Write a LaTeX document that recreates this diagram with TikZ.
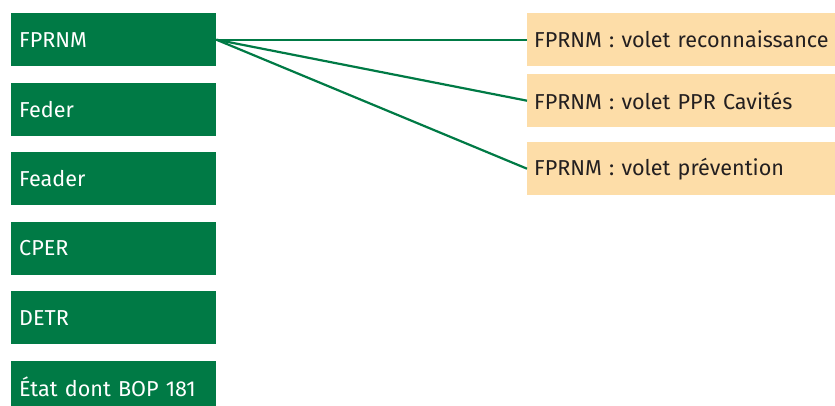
\documentclass[tikz,border=0pt]{standalone}
\usepackage{fontspec}
\setmainfont{Fira Sans}
\definecolor{fundgreen}{RGB}{0,122,69}
\definecolor{partsand}{RGB}{253,221,168}
\definecolor{parttext}{RGB}{35,31,32}
\begin{document}
\begin{tikzpicture}[x=1pt,y=-1pt,
  fund/.style={anchor=north west, fill=fundgreen, text=white, inner xsep=8pt, inner ysep=0pt,
    text width=189pt, minimum height=53pt, align=left, font=\fontsize{21.6}{24}\selectfont},
  part/.style={anchor=north west, fill=partsand, text=parttext, inner xsep=7pt, inner ysep=0pt,
    text width=300pt, minimum height=53pt, align=left, font=\fontsize{21.6}{24}\selectfont},
  link/.style={draw=fundgreen, line width=2.2pt}]
  \useasboundingbox (0,0) rectangle (835,406);
  \clip (0,0) rectangle (835,406);

  % funding sources
  \node[fund] (fprnm) at (11,13)    {FPRNM};
  \node[fund] (feder) at (11,82.5)  {Feder};
  \node[fund] (feader) at (11,152)  {Feader};
  \node[fund] (cper) at (11,221.5)  {CPER};
  \node[fund] (detr) at (11,291)    {DETR};
  \node[fund] (etat) at (11,360.5)  {État dont BOP 181};

  % FPRNM components
  \node[part] (reco) at (527,13)  {FPRNM : volet reconnaissance};
  \node[part] (ppr) at (527,74)   {FPRNM : volet PPR Cavités};
  \node[part] (prev) at (527,142) {FPRNM : volet prévention};

  % links
  \draw[link] (fprnm.east) -- (reco.west);
  \draw[link] (fprnm.east) -- (ppr.west);
  \draw[link] (fprnm.east) -- (prev.west);
\end{tikzpicture}
\end{document}
